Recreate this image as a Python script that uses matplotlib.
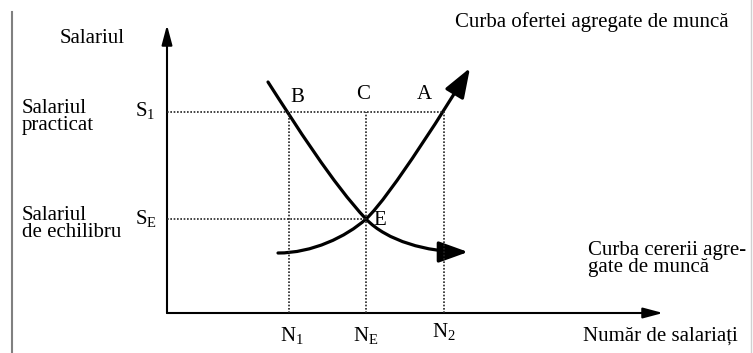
import matplotlib.pyplot as plt
from matplotlib.patches import FancyArrowPatch
from matplotlib.path import Path
from matplotlib.lines import Line2D

plt.rcParams['font.family'] = ['Liberation Serif', 'DejaVu Serif']
plt.rcParams['mathtext.fontset'] = 'custom'
plt.rcParams['mathtext.rm'] = 'Liberation Serif'
plt.rcParams['mathtext.it'] = 'Liberation Serif:italic'

# levels on the axes
N1, NE, N2 = 12.2, 19.9, 27.7
S1, SE = 20.1, 9.4
x_axis_end = 49.6
y_axis_end = 28.8

# curves as bezier control points (start, ctrl, ctrl, E, ctrl, ctrl, end)
demand_pts = [(10.1, 23.1), (12.8, 18.9), (16.6, 12.9), (NE, SE),
              (22.0, 7.2), (26.0, 6.1), (30.1, 6.1)]
supply_pts = [(11.1, 6.0), (14.5, 6.0), (17.9, 7.6), (NE, SE),
              (22.3, 11.6), (28.5, 21.5), (30.3, 24.5)]

fig = plt.figure(figsize=(7.53, 3.53), dpi=100)
ax = fig.add_axes([0, 0, 1, 1])
ax.set_xlim(-16.7, 58.6)
ax.set_ylim(-4.0, 31.3)
ax.axis('off')

# frame lines of the scanned page
fig.add_artist(Line2D([12/753, 12/753], [0, 341/353], transform=fig.transFigure,
                      color='#808080', lw=1.5))
fig.add_artist(Line2D([751/753, 751/753], [0, 1], transform=fig.transFigure,
                      color='#d0d0d0', lw=1.0))

# axes with arrows
ax.add_patch(FancyArrowPatch((0, 0), (0, y_axis_end), arrowstyle='-|>,head_length=12,head_width=3.2',
                             mutation_scale=1, lw=1.5, color='black', shrinkA=0, shrinkB=0))
ax.add_patch(FancyArrowPatch((0, 0), (x_axis_end, 0), arrowstyle='-|>,head_length=12,head_width=3.2',
                             mutation_scale=1, lw=1.5, color='black', shrinkA=0, shrinkB=0))

# dotted guides
dot = dict(color='#222222', lw=1.2, ls=(0, (1, 1)))
ax.plot([0, N2], [S1, S1], **dot)
ax.plot([0, NE], [SE, SE], **dot)
for n in (N1, NE, N2):
    ax.plot([n, n], [0, S1], **dot)

codes = [Path.MOVETO] + [Path.CURVE4] * 6
for pts in (demand_pts, supply_pts):
    ax.add_patch(FancyArrowPatch(path=Path(pts, codes),
                                 arrowstyle='-|>,head_length=18,head_width=6.5',
                                 mutation_scale=1, lw=2.3, color='black'))

fs = 15
ax.text(-10.7, 27.4, 'Salariul', fontsize=fs, va='center', ha='left')
ax.text(-14.5, 19.6, 'Salariul\npracticat', fontsize=fs, va='center', ha='left', linespacing=0.85)
ax.text(-14.5, 8.9, 'Salariul\nde echilibru', fontsize=fs, va='center', ha='left', linespacing=0.85)
ax.text(-1.2, S1 + 0.1, 'S$_1$', fontsize=fs, va='center', ha='right')
ax.text(-1.0, SE + 0.0, 'S$_\\mathrm{E}$', fontsize=fs, va='center', ha='right')

ax.text(13.0, 21.5, 'B', fontsize=fs, va='center', ha='center')
ax.text(NE - 0.3, 21.8, 'C', fontsize=fs, va='center', ha='center')
ax.text(25.7, 21.8, 'A', fontsize=fs, va='center', ha='center')
ax.text(21.3, 9.2, 'E', fontsize=fs, va='center', ha='center')

ax.text(N1 + 0.3, -2.3, 'N$_1$', fontsize=fs, va='center', ha='center')
ax.text(NE, -2.3, 'N$_\\mathrm{E}$', fontsize=fs, va='center', ha='center')
ax.text(N2, -1.9, 'N$_2$', fontsize=fs, va='center', ha='center')

ax.text(41.6, -2.3, 'Număr de salariați', fontsize=fs, va='center', ha='left')
ax.text(28.8, 29.1, 'Curba ofertei agregate de muncă', fontsize=fs, va='center', ha='left')
ax.text(42.1, 5.4, 'Curba cererii agre-\ngate de muncă', fontsize=fs, va='center', ha='left',
        linespacing=0.85)

fig.savefig('out.png', dpi=100)
